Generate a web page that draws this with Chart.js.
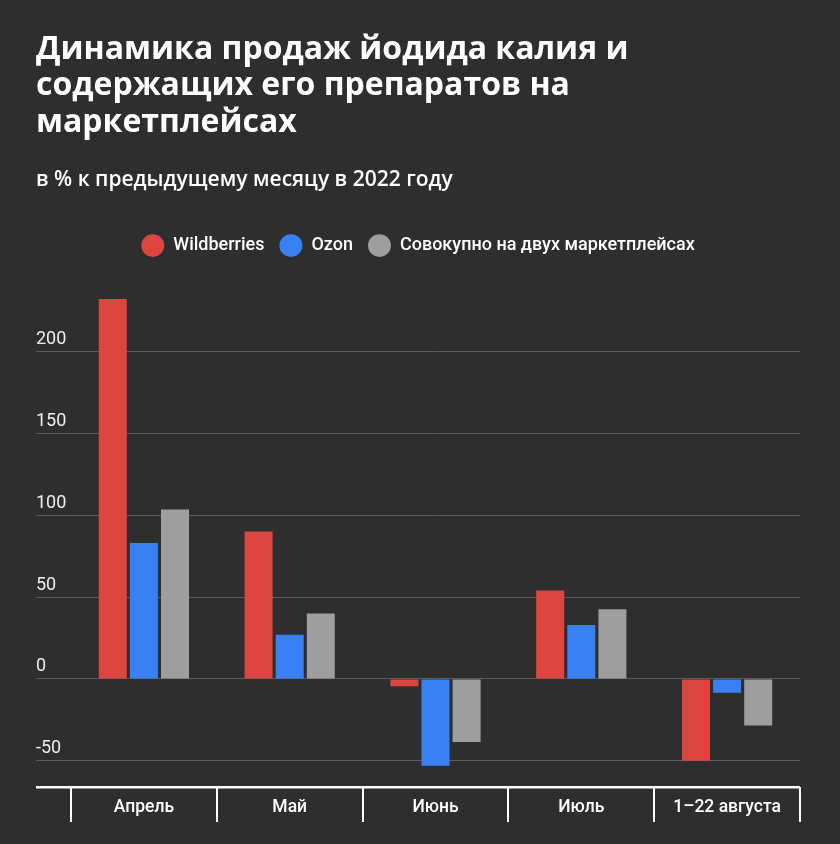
<!DOCTYPE html>
<html lang="ru">
<head>
<meta charset="UTF-8">
<title>Йодид калия на маркетплейсах</title>
<script src="https://cdn.jsdelivr.net/npm/chart.js@4.4.1/dist/chart.umd.min.js"></script>
<style>
  html, body { margin: 0; padding: 0; background: #2e2e2e; }
  canvas { display: block; }
</style>
</head>
<body>
<canvas id="salesChart" width="840" height="844"></canvas>
<script>
// values, % vs previous month
const months = ['Апрель', 'Май', 'Июнь', 'Июль', '1–22 августа'];
const wildberries = [232, 90, -4.5, 54, -50];
const ozon = [83, 27, -53, 33, -8.5];
const combined = [103.5, 40, -38.5, 42.5, -28.5];
const yTicks = [-50, 0, 50, 100, 150, 200];
const yMin = -66;
const yMax = 253;

const ctx = document.getElementById('salesChart').getContext('2d');
const chart = new Chart(ctx, {
    type: 'bar',
    data: {
        labels: months,
        datasets: [
            { label: 'Wildberries', data: wildberries, backgroundColor: '#dd4540' },
            { label: 'Ozon', data: ozon, backgroundColor: '#3a80f5' },
            { label: 'Совокупно на двух маркетплейсах', data: combined, backgroundColor: '#9e9e9e' }
        ]
    },
    options: {
        responsive: false,
        animation: false,
        categoryPercentage: 0.64,
        barPercentage: 0.9,
        layout: { padding: { left: 36, right: 40, top: 0, bottom: 0 } },
        plugins: {
            tooltip: { enabled: false },
            title: {
                display: true,
                align: 'start',
                color: '#ffffff',
                text: ['Динамика продаж йодида калия и', 'содержащих его препаратов на', 'маркетплейсах'],
                font: { family: 'Open Sans', size: 32, weight: '700', lineHeight: 1.15 },
                padding: { top: 31, bottom: 0 }
            },
            subtitle: {
                display: true,
                align: 'start',
                color: '#ffffff',
                text: 'в % к предыдущему месяцу в 2022 году',
                font: { family: 'Open Sans', size: 21, weight: '600', lineHeight: 1.2 },
                padding: { top: 26, bottom: 29 }
            },
            legend: {
                labels: {
                    usePointStyle: true,
                    pointStyle: 'circle',
                    pointStyleWidth: 23,
                    boxHeight: 16,
                    color: '#ffffff',
                    font: { family: 'Roboto', size: 18, weight: '500' },
                    padding: 15
                }
            }
        },
        scales: {
            x: {
                afterFit: (scale) => { scale.height = 57; },
                grid: { offset: true, drawOnChartArea: false, color: '#ffffff', lineWidth: 2, tickLength: 35 },
                border: { display: false },
                ticks: { color: '#ffffff', font: { family: 'Roboto', size: 17.5, weight: '500' }, padding: -25 }
            },
            y: {
                min: yMin,
                max: yMax,
                afterBuildTicks: (scale) => {
                    scale.ticks = [yMin].concat(yTicks).map(v => ({ value: v }));
                },
                afterFit: (scale) => { scale.width = 35; },
                grid: {
                    color: (c) => (c.tick && c.tick.value === yMin) ? '#ffffff' : '#5c5c5c',
                    lineWidth: (c) => (c.tick && c.tick.value === yMin) ? 2.5 : 1,
                    tickLength: 35
                },
                border: { display: false },
                ticks: {
                    crossAlign: 'far',
                    labelOffset: -12,
                    color: '#eeeeee',
                    font: { family: 'Roboto', size: 18 },
                    callback: (v) => v === yMin ? '' : v
                }
            }
        }
    }
});
</script>
</body>
</html>
